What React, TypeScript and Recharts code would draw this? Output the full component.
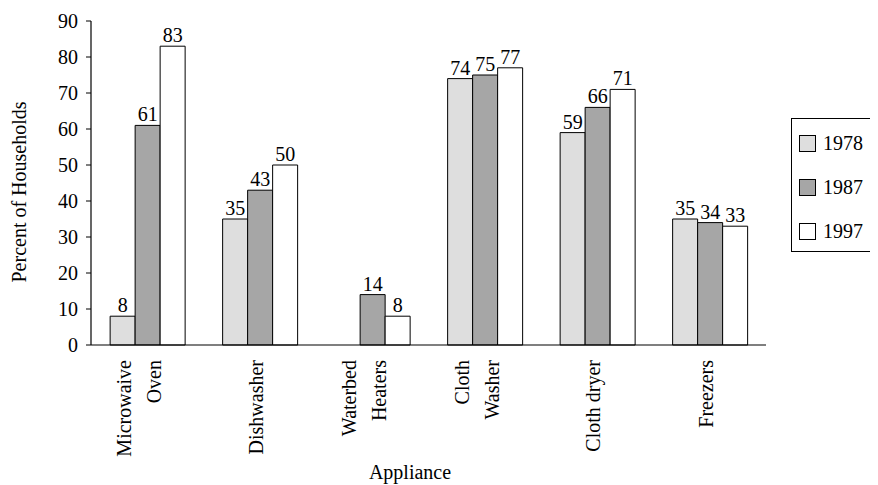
import { Bar, BarChart, LabelList, XAxis, YAxis } from "recharts";

// 가전제품 보유율 (1978 / 1987 / 1997)
const categories = [
  "Microwaive Oven",
  "Dishwasher",
  "Waterbed Heaters",
  "Cloth Washer",
  "Cloth dryer",
  "Freezers",
];
const categoryLines = [
  ["Microwaive", "Oven"],
  ["Dishwasher"],
  ["Waterbed", "Heaters"],
  ["Cloth", "Washer"],
  ["Cloth dryer"],
  ["Freezers"],
];
const values1978 = [8, 35, null, 74, 59, 35];
const values1987 = [61, 43, 14, 75, 66, 34];
const values1997 = [83, 50, 8, 77, 71, 33];
const yTicks = [0, 10, 20, 30, 40, 50, 60, 70, 80, 90];

const series = [
  { key: "y1978", name: "1978", values: values1978, fill: "#dedede" },
  { key: "y1987", name: "1987", values: values1987, fill: "#a6a6a6" },
  { key: "y1997", name: "1997", values: values1997, fill: "#ffffff" },
];

const data = categories.map((name, i) => {
  const row: Record<string, string | number | null> = { name };
  series.forEach((s) => {
    row[s.key] = s.values[i];
  });
  return row;
});

const FONT = "Liberation Serif, DejaVu Serif, serif";
const FONT_SIZE = 20;

function ApplianceTick(props: any) {
  const { x, y, index } = props;
  const lines = categoryLines[index] ?? [String(props.payload?.value ?? "")];
  const offsets = lines.length === 2 ? [-23, 7] : [-4];
  return (
    <g transform={`translate(${x},${y + 15}) rotate(-90)`}>
      {lines.map((line, i) => (
        <text
          key={line}
          x={0}
          y={offsets[i]}
          textAnchor="end"
          dominantBaseline="central"
          fill="#000"
          style={{ fontFamily: FONT, fontSize: FONT_SIZE }}
        >
          {line}
        </text>
      ))}
    </g>
  );
}

export default function App() {
  return (
    <div style={{ position: "relative", width: 870, height: 477, overflow: "hidden", fontFamily: FONT }}>
      <BarChart
        width={870}
        height={477}
        data={data}
        margin={{ top: 13, right: 112, bottom: 0, left: 0 }}
        barCategoryGap="17%"
        barGap={0}
        style={{ fontFamily: FONT }}
      >
        <XAxis
          dataKey="name"
          height={140}
          interval={0}
          tickLine={false}
          tickSize={0}
          tickMargin={0}
          axisLine={{ stroke: "#000", strokeWidth: 1.2 }}
          tick={<ApplianceTick />}
        />
        <XAxis xAxisId="top" dataKey="name" orientation="top" height={0} tick={false} tickLine={false} axisLine={{ stroke: "#000", strokeWidth: 1.2 }} />
        <YAxis
          width={83}
          domain={[0, 90]}
          ticks={yTicks}
          interval={0}
          tickSize={5}
          tickMargin={8}
          tickLine={{ stroke: "#000" }}
          axisLine={{ stroke: "#000", strokeWidth: 1.2 }}
          tick={{ fill: "#000", fontSize: FONT_SIZE, style: { fontFamily: FONT } }}
        />
        <YAxis yAxisId="right" orientation="right" width={0} domain={[0, 90]} tick={false} tickLine={false} axisLine={{ stroke: "#000", strokeWidth: 1.2 }} />
        {series.map((s) => (
          <Bar key={s.key} dataKey={s.key} name={s.name} fill={s.fill} stroke="#000" strokeWidth={1} isAnimationActive={false}>
            <LabelList
              dataKey={s.key}
              position="top"
              offset={4}
              fill="#000"
              fontSize={FONT_SIZE}
              style={{ fontFamily: FONT }}
              formatter={(v: any) => (v == null ? "" : v)}
            />
          </Bar>
        ))}
      </BarChart>
      <svg width={870} height={477} style={{ position: "absolute", left: 0, top: 0, pointerEvents: "none" }}>
        <text
          transform="translate(11,184) rotate(-90)"
          textAnchor="middle"
          dominantBaseline="central"
          style={{ fontFamily: FONT, fontSize: FONT_SIZE }}
          fill="#000"
        >
          Percent of Households
        </text>
        <text x={402} y={471} textAnchor="middle" style={{ fontFamily: FONT, fontSize: FONT_SIZE }} fill="#000">
          Appliance
        </text>
      </svg>
      <div
        style={{
          position: "absolute",
          left: 783,
          top: 110,
          width: 120,
          height: 130,
          border: "1px solid #000",
          paddingTop: 2,
          boxSizing: "content-box",
        }}
      >
        {series.map((s) => (
          <div key={s.key} style={{ height: 44, display: "flex", alignItems: "center", paddingLeft: 7 }}>
            <span
              style={{
                width: 15,
                height: 15,
                background: s.fill,
                border: "1px solid #000",
                display: "inline-block",
                marginRight: 7,
              }}
            />
            <span style={{ fontSize: FONT_SIZE, color: "#000", lineHeight: "20px" }}>{s.name}</span>
          </div>
        ))}
      </div>
    </div>
  );
}
